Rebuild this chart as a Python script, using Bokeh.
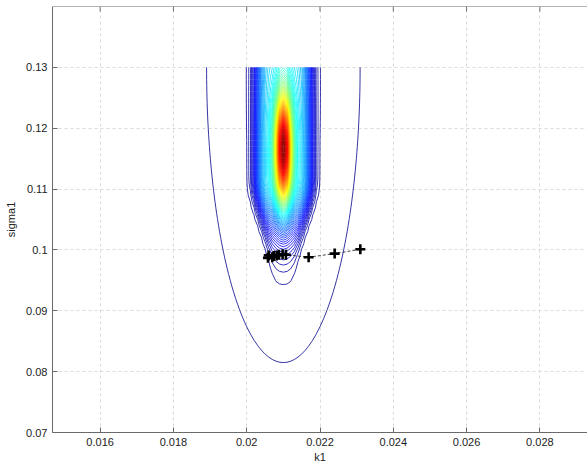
import numpy as np
from bokeh.plotting import figure
from bokeh.models import FixedTicker, Range1d, Span
from bokeh.embed import file_html
from bokeh.resources import INLINE

# Axis ticks and their printed labels
k1_ticks = [0.016, 0.018, 0.020, 0.022, 0.024, 0.026, 0.028]
k1_tick_labels = ["0.016", "0.018", "0.02", "0.022", "0.024", "0.026", "0.028"]
sigma1_ticks = [0.07, 0.08, 0.09, 0.10, 0.11, 0.12, 0.13]
sigma1_tick_labels = ["0.07", "0.08", "0.09", "0.1", "0.11", "0.12", "0.13"]
k1_limits = (0.0147, 0.0293)
sigma1_limits = (0.07, 0.14)

# Grid on which the objective surface was evaluated
k1_grid = np.round(np.arange(0.0170, 0.02505, 0.0001), 6)
sigma1_grid = np.round(np.arange(0.070, 0.13005, 0.001), 4)

# Objective surface: sharp peak + flat-topped ridge + wide plateau
# (centre k1, centre sigma1, height, k1 width, k1 shape power, sigma1 width below, sigma1 width above)
peak = (0.0210, 0.1167, 0.60, 0.00015, 2.0, 0.0065, 0.0065)
ridge = (0.0210, 0.1120, 0.33, 0.00065, 5.0, 0.0062, 0.0400)
plateau = (0.0210, 0.1300, 0.024, 0.00184, 2.0, 0.0426, 0.0426)
# the ridge narrows smoothly below sigma1 = 0.112
ridge_taper_start, ridge_taper_span, ridge_taper_min = 0.112, 0.008, 0.35
n_levels = 80

# Optimiser trace (start at the right, converging to the left cluster)
trace_k1 = [0.02310, 0.02240, 0.02169, 0.02107, 0.02098, 0.02088,
            0.02082, 0.02074, 0.02070, 0.02060, 0.02058]
trace_sigma1 = [0.1001, 0.0994, 0.0988, 0.0992, 0.0993, 0.0992,
                0.0991, 0.0990, 0.0988, 0.0991, 0.0987]

K, S = np.meshgrid(k1_grid, sigma1_grid)


def bump(k_c, s_c, height, wk, pk, ws_low, ws_high, k_scale=1.0):
    ws = np.where(S < s_c, ws_low, ws_high)
    return height * np.exp(-0.5 * np.abs((K - k_c) / (wk * k_scale)) ** pk
                           - 0.5 * ((S - s_c) / ws) ** 2)


below = np.clip(ridge_taper_start - S, 0, None)
ridge_scale = ridge_taper_min + (1 - ridge_taper_min) * np.exp(-0.5 * (below / ridge_taper_span) ** 2)
Z = bump(*peak) + bump(*ridge, k_scale=ridge_scale) + bump(*plateau)

zmin, zmax = float(Z.min()), float(Z.max())
levels = np.linspace(zmin, zmax, n_levels + 2)[1:-1]


def jet(t):
    r = np.clip(1.5 - abs(4 * t - 3), 0, 1)
    g = np.clip(1.5 - abs(4 * t - 2), 0, 1)
    b = np.clip(1.5 - abs(4 * t - 1), 0, 1)
    return "#%02x%02x%02x" % (int(r * 255), int(g * 255), int(b * 255))


level_colors = [jet((lv - zmin) / (zmax - zmin)) for lv in levels]

FONT = "Liberation Sans"
AXIS_GRAY = "#6a6a6a"

p = figure(width=587, height=465,
           x_range=Range1d(*k1_limits), y_range=Range1d(*sigma1_limits),
           output_backend="svg", toolbar_location=None,
           min_border_left=52, min_border_right=0, min_border_top=6, min_border_bottom=33,
           x_axis_label="k1", y_axis_label="sigma1")
p.outline_line_color = None
p.background_fill_color = "white"
p.border_fill_color = "white"

p.xgrid.ticker = FixedTicker(ticks=k1_ticks)
p.ygrid.ticker = FixedTicker(ticks=sigma1_ticks)
for g in (p.xgrid, p.ygrid):
    g.grid_line_color = "#dadada"
    g.grid_line_dash = "3 3"
    g.grid_line_width = 1

p.contour(k1_grid, sigma1_grid, Z, levels, line_color=level_colors, line_width=0.8)

p.line(trace_k1, trace_sigma1, line_color="#333333", line_width=0.9, line_dash="3 2")
p.scatter(trace_k1, trace_sigma1, marker="cross", size=10, line_width=2.6, line_color="black")

# Box edge along the top with short inward tick marks
top_tick = (sigma1_limits[1] - sigma1_limits[0]) * 5 / 426
p.add_layout(Span(location=sigma1_limits[1], dimension="width",
                  line_color=AXIS_GRAY, line_width=1))
p.segment(x0=k1_ticks, y0=[sigma1_limits[1]] * len(k1_ticks),
          x1=k1_ticks, y1=[sigma1_limits[1] - top_tick] * len(k1_ticks),
          line_color=AXIS_GRAY, line_width=1)

xa = p.xaxis[0]
ya = p.yaxis[0]
xa.ticker = FixedTicker(ticks=k1_ticks)
ya.ticker = FixedTicker(ticks=sigma1_ticks)
xa.major_label_overrides = dict(zip(k1_ticks, k1_tick_labels))
ya.major_label_overrides = dict(zip(sigma1_ticks, sigma1_tick_labels))

for ax in (xa, ya):
    ax.axis_line_color = AXIS_GRAY
    ax.axis_line_width = 1
    ax.major_tick_line_color = AXIS_GRAY
    ax.major_tick_in = 5
    ax.major_tick_out = 0
    ax.minor_tick_line_color = None
    ax.major_label_text_font = FONT
    ax.major_label_text_font_size = "11px"
    ax.major_label_text_color = "#222222"
    ax.major_label_standoff = 5
    ax.axis_label_text_font = FONT
    ax.axis_label_text_font_style = "normal"
    ax.axis_label_text_color = "#222222"
    ax.axis_label_text_font_size = "11px"

xa.axis_label_standoff = 2
ya.axis_label_standoff = 6

open("out.html", "w").write(file_html(p, INLINE))
